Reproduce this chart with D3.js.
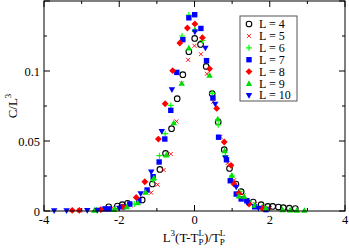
<!DOCTYPE html>
<html><head><meta charset="utf-8">
<script src="https://cdn.jsdelivr.net/npm/d3@7"></script>
<style>body{margin:0;background:#fff}svg{display:block}</style>
</head><body><div id="c"></div>
<script>
const sizes = [4,5,6,7,8,9,10];
const L4 = [[-2.28,0.003],[-2.05,0.0035],[-1.92,0.0045],[-1.78,0.0055],[-1.39,0.0079],[-1.12,0.0193],[-0.92,0.0297],[-0.77,0.0411],[-0.61,0.0588],[-0.46,0.0802],[-0.31,0.0974],[-0.15,0.1138],[0.005,0.1233],[0.16,0.119],[0.31,0.1033],[0.47,0.0838],[0.63,0.0636],[0.79,0.0438],[0.93,0.0304],[1.1,0.0193],[1.24,0.0138],[1.56,0.0064],[1.77,0.0045],[1.95,0.0033],[2.08,0.0033],[2.23,0.0028],[2.36,0.0024],[2.52,0.002],[2.68,0.0017]];
const L5 = [[-3.05,0.0003],[-2.2,0.002],[-1.7,0.004],[-1.15,0.0131],[-0.98,0.0188],[-0.82,0.0293],[-0.63,0.0407],[-0.48,0.064],[-0.34,0.0911],[-0.17,0.108],[0.0,0.118],[0.17,0.112],[0.33,0.098],[0.5,0.078],[0.69,0.053],[0.88,0.0343],[1.05,0.022],[1.3,0.011],[1.6,0.005],[2.0,0.002]];
const L6 = [[-2.6,0.0005],[-2.1,0.0015],[-1.6,0.005],[-1.1,0.022],[-0.93,0.0395],[-0.78,0.0552],[-0.63,0.0754],[-0.33,0.125],[-0.15,0.140],[0.21,0.1218],[0.47,0.084],[0.63,0.0616],[0.82,0.0395],[1.0,0.025],[1.2,0.014],[1.45,0.007],[1.8,0.003]];
const L7 = [[-2.38,0.0015],[-2.27,0.0015],[-1.9,0.003],[-1.72,0.005],[-1.48,0.0074],[-1.26,0.015],[-1.1,0.0245],[-0.94,0.035],[-0.79,0.0514],[-0.63,0.0719],[-0.47,0.099],[-0.31,0.1224],[-0.15,0.138],[0.005,0.1402],[0.17,0.1304],[0.32,0.1074],[0.49,0.0807],[0.64,0.0527],[0.85,0.0366],[0.95,0.0216],[1.11,0.0121],[1.24,0.0086],[1.39,0.0074],[1.6,0.003],[1.9,0.001]];
const L8 = [[-3.25,0.0005],[-3.06,0.0005],[-2.49,0.001],[-1.9,0.003],[-1.55,0.0097],[-1.32,0.0209],[-0.96,0.0514],[-0.78,0.0766],[-0.58,0.1002],[-0.39,0.12],[-0.19,0.1307],[0.01,0.1336],[0.21,0.1238],[0.40,0.1016],[0.59,0.0733],[0.79,0.0493],[0.97,0.0326],[1.05,0.0193],[1.18,0.0126],[1.45,0.005],[1.8,0.002]];
const L9 = [[-2.66,0.0005],[-2.13,0.001],[-1.8,0.003],[-1.51,0.0059],[-1.3,0.0133],[-1.08,0.0236],[-0.75,0.04],[-0.55,0.0629],[-0.34,0.0911],[-0.15,0.1164],[0.01,0.1295],[0.40,0.0969],[0.62,0.0657],[0.8,0.043],[0.99,0.0254],[1.18,0.0107],[1.32,0.0104],[1.6,0.004],[1.9,0.002],[2.34,0.0008],[2.54,0.0006],[2.72,0.0005],[2.92,0.0004]];
const L10 = [[-3.73,0.0003],[-3.4,0.0003],[-2.85,0.0004],[-2.58,0.0006],[-2.0,0.002],[-1.43,0.0124],[-1.15,0.0279],[-0.87,0.0569],[-0.6,0.0866],[0.01,0.1279],[0.29,0.1164],[0.55,0.0764],[0.82,0.038],[1.11,0.0171],[1.4,0.006],[1.7,0.002]];
const seriesData = [L4,L5,L6,L7,L8,L9,L10];
const xTicks = [-4,-2,0,2,4];
const yTicks = [0,0.05,0.1];
const yTickLabels = ["0","0.05","0.1"];

const W=349,H=249;
const m={l:44,r:4,t:1,b:38};
const svg=d3.select("#c").append("svg").attr("width",W).attr("height",H);
const x=d3.scaleLinear().domain([-4,4]).range([m.l,W-m.r]);
const y=d3.scaleLinear().domain([0,0.15]).range([H-m.b,m.t]);
const font="'Liberation Serif', 'Times New Roman', serif";

const styles=[
 {type:"circle",color:"#000"},
 {type:"x",color:"#ff0000"},
 {type:"plus",color:"#00ff00"},
 {type:"square",color:"#0000ff"},
 {type:"diamond",color:"#ff0000"},
 {type:"tri",color:"#00dd00"},
 {type:"tridown",color:"#0000ff"}
];
function drawMarker(g,st,cx,cy){
  if(st.type==="circle") g.append("circle").attr("cx",cx).attr("cy",cy).attr("r",2.8).attr("fill","none").attr("stroke",st.color).attr("stroke-width",1.1);
  else if(st.type==="x") g.append("path").attr("d",`M${cx-2},${cy-2}L${cx+2},${cy+2}M${cx-2},${cy+2}L${cx+2},${cy-2}`).attr("stroke",st.color).attr("stroke-width",0.9);
  else if(st.type==="plus") g.append("path").attr("d",`M${cx-3},${cy}L${cx+3},${cy}M${cx},${cy-3}L${cx},${cy+3}`).attr("stroke",st.color).attr("stroke-width",1.2);
  else if(st.type==="square") g.append("rect").attr("x",cx-2.7).attr("y",cy-2.7).attr("width",5.4).attr("height",5.4).attr("fill",st.color);
  else if(st.type==="diamond") g.append("path").attr("d",`M${cx},${cy-3.4}L${cx+3.4},${cy}L${cx},${cy+3.4}L${cx-3.4},${cy}Z`).attr("fill",st.color);
  else if(st.type==="tri") g.append("path").attr("d",`M${cx},${cy-3.3}L${cx+3.2},${cy+2.4}L${cx-3.2},${cy+2.4}Z`).attr("fill",st.color);
  else if(st.type==="tridown") g.append("path").attr("d",`M${cx},${cy+3.3}L${cx+3.2},${cy-2.4}L${cx-3.2},${cy-2.4}Z`).attr("fill",st.color);
}

const pts=svg.append("g");
seriesData.forEach((d,i)=>{
  d.forEach(p=>drawMarker(pts,styles[i],x(p[0]),y(p[1])));
});

svg.append("rect").attr("x",x(-4)).attr("y",y(0.15)).attr("width",x(4)-x(-4)).attr("height",y(0)-y(0.15)).attr("fill","none").attr("stroke","#000").attr("stroke-width",1);

const tk=svg.append("g").attr("stroke","#000").attr("stroke-width",1);
d3.range(-4,4.01,1).forEach(v=>{
  const major=Math.abs(v%2)<1e-9; const len=major?6:3;
  tk.append("line").attr("x1",x(v)).attr("x2",x(v)).attr("y1",y(0)).attr("y2",y(0)-len);
  tk.append("line").attr("x1",x(v)).attr("x2",x(v)).attr("y1",y(0.15)).attr("y2",y(0.15)+len);
});
d3.range(0,0.1501,0.025).forEach((v,i)=>{
  const major=i%2===0; const len=major?6:3;
  tk.append("line").attr("x1",x(-4)).attr("x2",x(-4)+len).attr("y1",y(v)).attr("y2",y(v));
  tk.append("line").attr("x1",x(4)).attr("x2",x(4)-len).attr("y1",y(v)).attr("y2",y(v));
});
svg.append("g").selectAll("text").data(xTicks).join("text")
 .attr("x",d=>x(d)).attr("y",y(0)+13).attr("text-anchor","middle")
 .attr("font-family",font).attr("font-size",12.5).text(d=>d);
svg.append("g").selectAll("text").data(yTicks).join("text")
 .attr("x",x(-4)-4).attr("y",d=>y(d)+4.5).attr("text-anchor","end")
 .attr("font-family",font).attr("font-size",12.5).text((d,i)=>yTickLabels[i]);

const xt=svg.append("text").attr("x",194).attr("y",242).attr("text-anchor","middle").attr("font-family",font).attr("font-size",13);
xt.append("tspan").text("L");
xt.append("tspan").attr("font-size",9).attr("dy",-6).text("3");
xt.append("tspan").attr("dy",6).text("(T-T");
xt.append("tspan").attr("font-size",9).attr("dy",3).text("P");
xt.append("tspan").attr("font-size",9).attr("dx",-5).attr("dy",-9).text("L");
xt.append("tspan").attr("dy",6).text(")/T");
xt.append("tspan").attr("font-size",9).attr("dy",3).text("P");
xt.append("tspan").attr("font-size",9).attr("dx",-5).attr("dy",-9).text("L");

const yt=svg.append("text").attr("transform","translate(17,106) rotate(-90)").attr("text-anchor","middle").attr("font-family",font).attr("font-size",13);
yt.append("tspan").text("C/L");
yt.append("tspan").attr("font-size",9).attr("dy",-6).text("3");

const lg=svg.append("g");
lg.append("rect").attr("x",240).attr("y",16).attr("width",57).attr("height",85).attr("fill","#fff").attr("stroke","#555").attr("stroke-width",1);
sizes.forEach((s,i)=>{
  const cy=24+i*11.9;
  drawMarker(lg,styles[i],249,cy);
  lg.append("text").attr("x",259).attr("y",cy+4).attr("font-family",font).attr("font-size",12).text("L = "+s);
});
</script></body></html>
